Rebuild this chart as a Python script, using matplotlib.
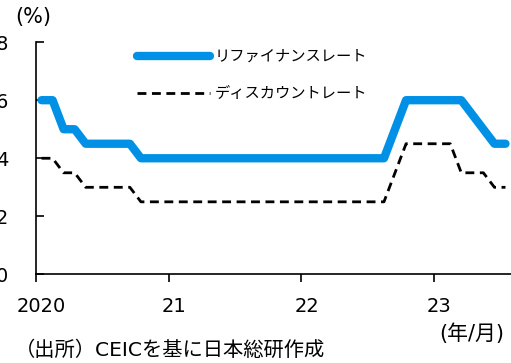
import matplotlib
matplotlib.use('Agg')
import matplotlib.pyplot as plt
import numpy as np
import pandas as pd

plt.rcParams['font.family'] = ['DejaVu Sans', 'Noto Sans CJK JP']

# monthly, Jan 2020 - Jul 2023
months = pd.period_range('2020-01', '2023-07', freq='M')
refinance = [6.0, 6.0, 5.0, 5.0, 4.5, 4.5, 4.5, 4.5, 4.5,
             4.0, 4.0, 4.0,
             4.0, 4.0, 4.0, 4.0, 4.0, 4.0, 4.0, 4.0, 4.0, 4.0, 4.0, 4.0,
             4.0, 4.0, 4.0, 4.0, 4.0, 4.0, 4.0, 4.0, 5.0, 6.0, 6.0, 6.0,
             6.0, 6.0, 6.0, 5.5, 5.0, 4.5, 4.5]
discount = [4.0, 4.0, 3.5, 3.5, 3.0, 3.0, 3.0, 3.0, 3.0,
            2.5, 2.5, 2.5,
            2.5, 2.5, 2.5, 2.5, 2.5, 2.5, 2.5, 2.5, 2.5, 2.5, 2.5, 2.5,
            2.5, 2.5, 2.5, 2.5, 2.5, 2.5, 2.5, 2.5, 3.5, 4.5, 4.5, 4.5,
            4.5, 4.5, 3.5, 3.5, 3.5, 3.0, 3.0]
year_labels = ['2020', '21', '22', '23']
series_names = ['リファイナンスレート', 'ディスカウントレート']

x = np.arange(len(months)) + 0.5

fig = plt.figure(figsize=(5.11, 3.63), dpi=100)
ax = fig.add_axes([36 / 511, 0.244, 1 - 36 / 511, 0.884 - 0.244])

ax.plot(x, refinance, color='#0091E6', lw=6.0, solid_capstyle='round',
        solid_joinstyle='round', label=series_names[0])
ax.plot(x, discount, color='black', lw=2.0, ls=(0, (3.2, 2.0)),
        label=series_names[1])

ax.set_xlim(0, len(months))
ax.set_ylim(0, 8)
ax.set_yticks([0, 2, 4, 6, 8])
ax.tick_params(axis='y', direction='in', length=6, width=1.2, pad=20,
               labelsize=14)

year_starts = [i for i, m in enumerate(months) if m.month == 1]
ax.set_xticks(year_starts)
ax.set_xticklabels([])
ax.set_xticks([i + 0.5 for i in year_starts], minor=True)
ax.set_xticklabels(year_labels, minor=True)
ax.tick_params(axis='x', which='major', direction='out', length=6, width=1.2)
ax.tick_params(axis='x', which='minor', length=0, pad=16, labelsize=14)

for side in ('top', 'right'):
    ax.spines[side].set_visible(False)
for side in ('left', 'bottom'):
    ax.spines[side].set_linewidth(1.2)

ax.legend(loc='upper left', bbox_to_anchor=(0.183, 1.03), frameon=False,
          fontsize=11, handlelength=4.8, handletextpad=0.3, labelspacing=1.45)

fig.text(33 / 511, 1 - 17 / 363, '(%)', ha='center', va='center', fontsize=15)
fig.text(472 / 511, 1 - 334 / 363, '(年/月)', ha='center', va='center', fontsize=15)
fig.text(170 / 511, 1 - 350 / 363, '（出所）CEICを基に日本総研作成',
         ha='center', va='center', fontsize=14.6)

fig.savefig('out.png', dpi=100)
